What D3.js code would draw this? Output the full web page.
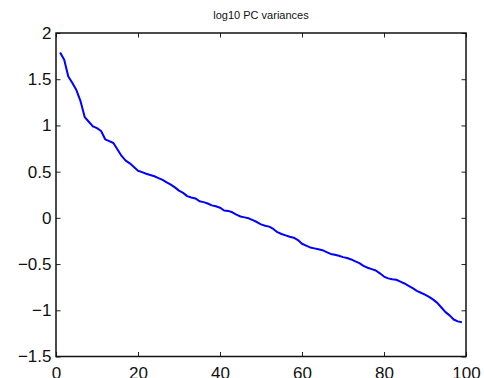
<!DOCTYPE html>
<html>
<head>
<meta charset="utf-8">
<script src="https://cdn.jsdelivr.net/npm/d3@7"></script>
<style>
  html, body { margin: 0; padding: 0; background: #fff; }
  svg { display: block; }
</style>
</head>
<body>
<svg id="chart" width="484" height="378"></svg>
<script>
// log10 of the variance explained by each principal component (components 1..99)
const componentIndex = d3.range(1, 100);
const logVariance = [
  1.79, 1.71, 1.53, 1.46, 1.38, 1.26, 1.09, 1.04, 0.99, 0.97,
  0.94, 0.85, 0.83, 0.81, 0.74, 0.67, 0.62, 0.59, 0.55, 0.51,
  0.495, 0.477, 0.463, 0.450, 0.43, 0.41, 0.385, 0.36, 0.33, 0.295,
  0.27, 0.235, 0.22, 0.21, 0.18, 0.17, 0.155, 0.135, 0.125, 0.11,
  0.08, 0.075, 0.06, 0.035, 0.015, 0.005, -0.005, -0.025, -0.045, -0.07,
  -0.085, -0.095, -0.12, -0.155, -0.175, -0.19, -0.205, -0.215, -0.24, -0.28,
  -0.30, -0.32, -0.33, -0.34, -0.35, -0.37, -0.39, -0.40, -0.41, -0.425,
  -0.435, -0.45, -0.47, -0.49, -0.52, -0.54, -0.555, -0.57, -0.60, -0.635,
  -0.655, -0.665, -0.67, -0.69, -0.71, -0.735, -0.76, -0.79, -0.81, -0.83,
  -0.855, -0.885, -0.92, -0.97, -1.02, -1.055, -1.10, -1.12, -1.13
];
const xTicks = [0, 20, 40, 60, 80, 100];
const yTicks = [-1.5, -1, -0.5, 0, 0.5, 1, 1.5, 2];
const chartTitle = "log10 PC variances";

const svg = d3.select("#chart");
const plotLeft = 56, plotRight = 466, plotTop = 33, plotBottom = 356.5;

const x = d3.scaleLinear().domain([0, 100]).range([plotLeft, plotRight]);
const y = d3.scaleLinear().domain([-1.5, 2]).range([plotBottom, plotTop]);

const fmt = v => String(v).replace("-", "\u2212");
const font = "'Liberation Sans', Arial, Helvetica, sans-serif";
const tickLen = 4.5;

// Data line
const line = d3.line()
  .x((d, i) => x(componentIndex[i]))
  .y(d => y(d));

svg.append("path")
  .datum(logVariance)
  .attr("fill", "none")
  .attr("stroke", "#0000ff")
  .attr("stroke-width", 2)
  .attr("stroke-linejoin", "round")
  .attr("d", line);

// Axes: ticks point inward on all four sides, MATLAB style
const axisStyle = g => {
  g.select(".domain").remove();
  g.selectAll(".tick line").attr("stroke", "#222").attr("stroke-width", 1);
  g.selectAll(".tick text")
    .attr("font-family", font)
    .attr("font-size", 17)
    .attr("fill", "#111");
};

svg.append("g")
  .attr("transform", `translate(0,${plotBottom})`)
  .call(d3.axisBottom(x).tickValues(xTicks).tickFormat(fmt)
    .tickSizeInner(-tickLen).tickSizeOuter(0).tickPadding(10.5))
  .call(axisStyle);

svg.append("g")
  .attr("transform", `translate(0,${plotTop})`)
  .call(d3.axisTop(x).tickValues(xTicks).tickFormat("")
    .tickSizeInner(-tickLen).tickSizeOuter(0))
  .call(axisStyle);

svg.append("g")
  .attr("transform", `translate(${plotLeft},0)`)
  .call(d3.axisLeft(y).tickValues(yTicks).tickFormat(fmt)
    .tickSizeInner(-tickLen).tickSizeOuter(0).tickPadding(4.5))
  .call(axisStyle);

svg.append("g")
  .attr("transform", `translate(${plotRight},0)`)
  .call(d3.axisRight(y).tickValues(yTicks).tickFormat("")
    .tickSizeInner(-tickLen).tickSizeOuter(0))
  .call(axisStyle);

// Plot frame
svg.append("rect")
  .attr("x", plotLeft).attr("y", plotTop)
  .attr("width", plotRight - plotLeft).attr("height", plotBottom - plotTop)
  .attr("fill", "none")
  .attr("stroke", "#111")
  .attr("stroke-width", 1.5);

// Title
svg.append("text")
  .attr("x", (plotLeft + plotRight) / 2)
  .attr("y", 19)
  .attr("text-anchor", "middle")
  .attr("font-family", font)
  .attr("font-size", 11)
  .attr("fill", "#111")
  .text(chartTitle);
</script>
</body>
</html>
